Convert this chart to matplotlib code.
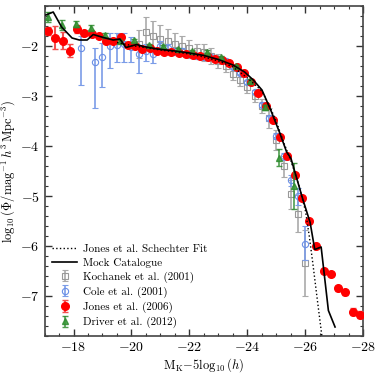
import matplotlib
matplotlib.use("Agg")
import matplotlib.pyplot as plt
from matplotlib.ticker import MultipleLocator

plt.rcParams['font.family'] = 'serif'
plt.rcParams['font.serif'] = ['cmr10', 'DejaVu Serif']
plt.rcParams['mathtext.fontset'] = 'cm'
plt.rcParams['axes.formatter.use_mathtext'] = True

# Jones et al. (2006)
jones_x = [-17.125, -17.375, -17.625, -17.875, -18.125, -18.375, -18.625, -18.875,
           -19.125, -19.375, -19.625, -19.875, -20.125, -20.375, -20.625, -20.875,
           -21.125, -21.375, -21.625, -21.875, -22.125, -22.375, -22.625, -22.875,
           -23.125, -23.375, -23.625, -23.875, -24.125, -24.375, -24.625, -24.875,
           -25.125, -25.375, -25.625, -25.875, -26.125, -26.375, -26.625, -26.875,
           -27.125, -27.375, -27.625, -27.875]
jones_y = [-1.70, -1.83, -1.89, -2.09, -1.66, -1.74, -1.75, -1.80,
           -1.89, -1.90, -1.82, -1.97, -2.01, -2.07, -2.05, -2.09,
           -2.12, -2.12, -2.14, -2.15, -2.17, -2.19, -2.22, -2.25,
           -2.28, -2.33, -2.42, -2.54, -2.71, -2.93, -3.19, -3.47,
           -3.82, -4.19, -4.58, -5.04, -5.50, -6.00, -6.49, -6.55,
           -6.84, -6.92, -7.31, -7.37]
jones_err = [0.08, 0.23, 0.18, 0.12, 0.08, 0.05, 0.04, 0.04,
             0.04, 0.04, 0.04, 0.03, 0.03, 0.03, 0.03, 0.03,
             0.03, 0.03, 0.03, 0.03, 0.03, 0.03, 0.03, 0.03,
             0.03, 0.03, 0.03, 0.03, 0.03, 0.03, 0.03, 0.03,
             0.03, 0.03, 0.03, 0.03, 0.03, 0.03, 0.04, 0.04,
             0.05, 0.05, 0.07, 0.07]

# Cole et al. (2001)
cole_x = [-18.25, -18.75, -19.0, -19.25, -19.5, -19.75, -20.0, -20.25, -20.5,
          -20.75, -21.0, -21.25, -21.5, -21.75, -22.0, -22.25, -22.5, -22.75,
          -23.0, -23.25, -23.5, -23.75, -24.0, -24.25, -24.5, -24.75, -25.0,
          -25.25, -25.5, -25.75, -26.0]
cole_y = [-2.04, -2.31, -2.21, -2.01, -1.98, -1.96, -2.02, -2.15, -2.10,
          -2.16, -2.00, -2.05, -2.10, -2.09, -2.16, -2.20, -2.21, -2.22,
          -2.25, -2.30, -2.42, -2.54, -2.71, -2.91, -3.17, -3.44, -3.80,
          -4.20, -4.68, -5.00, -5.95]
cole_up = [0.25, 0.28, 0.28, 0.26, 0.24, 0.22, 0.20, 0.17, 0.15,
           0.12, 0.10, 0.08, 0.06, 0.05, 0.04, 0.04, 0.04, 0.04,
           0.04, 0.04, 0.04, 0.04, 0.04, 0.04, 0.05, 0.05, 0.06,
           0.07, 0.10, 0.15, 0.36]
cole_dn = [0.74, 0.93, 0.61, 0.43, 0.33, 0.35, 0.30, 0.39, 0.20,
           0.18, 0.12, 0.10, 0.07, 0.05, 0.05, 0.04, 0.04, 0.04,
           0.04, 0.04, 0.04, 0.04, 0.04, 0.04, 0.05, 0.05, 0.06,
           0.08, 0.12, 0.18, 0.33]

# Kochanek et al. (2001)
koch_x = [-20.25, -20.5, -20.75, -21.0, -21.25, -21.5, -21.75, -22.0, -22.25,
          -22.5, -22.75, -23.0, -23.25, -23.5, -23.75, -24.0, -24.25, -24.5,
          -24.75, -25.0, -25.25, -25.5, -25.75, -26.0]
koch_y = [-1.95, -1.72, -1.80, -1.85, -1.90, -1.95, -2.00, -2.05, -2.10,
          -2.12, -2.20, -2.30, -2.40, -2.56, -2.68, -2.81, -3.00, -3.19,
          -3.44, -3.87, -4.40, -4.96, -5.35, -6.34]
koch_err = [0.28, 0.30, 0.30, 0.28, 0.25, 0.22, 0.20, 0.18, 0.15,
            0.17, 0.16, 0.14, 0.12, 0.12, 0.12, 0.12, 0.12, 0.14,
            0.20, 0.20, 0.21, 0.29, 0.37, 0.66]

# Driver et al. (2012)
driver_x = [-17.12, -17.6, -18.1, -18.6, -19.1, -19.6, -20.1, -20.6, -21.1,
            -21.6, -22.1, -22.6, -23.1, -23.6, -24.1, -24.6, -25.1, -25.6]
driver_y = [-1.42, -1.58, -1.55, -1.63, -1.77, -1.90, -1.88, -1.98, -2.01,
            -2.06, -2.10, -2.11, -2.22, -2.40, -2.70, -3.22, -4.23, -4.80]
driver_err = [0.10, 0.10, 0.06, 0.05, 0.04, 0.03, 0.03, 0.03, 0.03,
              0.03, 0.03, 0.03, 0.03, 0.03, 0.04, 0.05, 0.17, 0.45]

# mock catalogue
mock_x = [-17.05, -17.3, -17.59, -17.95, -18.2, -18.47, -18.68, -19.03, -19.37,
          -19.6, -19.81, -20.18, -20.41, -20.9, -21.5, -22.0, -22.5, -23.0,
          -23.5, -23.9, -24.2, -24.5, -24.8, -25.1, -25.35, -25.5, -25.9,
          -26.16, -26.32, -26.54, -26.79, -27.02]
mock_y = [-1.38, -1.32, -1.62, -1.84, -1.88, -1.88, -1.77, -1.83, -1.88,
          -1.86, -2.03, -1.97, -2.01, -2.06, -2.10, -2.14, -2.19, -2.27,
          -2.38, -2.52, -2.68, -2.88, -3.28, -3.72, -4.12, -4.25, -5.05,
          -5.53, -6.07, -6.02, -7.29, -7.62]

# Schechter fit
fit_x = [-19.5, -20.0, -21.0, -22.0, -22.5, -23.0, -23.5, -24.0, -24.5, -24.8,
         -25.0, -25.25, -25.5, -25.75, -26.0, -26.13, -26.25, -26.39, -26.52, -26.6]
fit_y = [-1.93, -1.99, -2.08, -2.16, -2.22, -2.30, -2.42, -2.64, -2.90, -3.25,
         -3.52, -3.93, -4.30, -4.74, -5.30, -5.80, -6.33, -6.99, -7.59, -7.95]

fig = plt.figure(figsize=(3.82, 3.75), dpi=100)
ax = fig.add_axes([0.1165, 0.104, 0.835, 0.88])

hk = ax.errorbar(koch_x, koch_y, yerr=koch_err, fmt='s', ms=4.5, mfc='none',
                 mec='#999999', ecolor='#aaaaaa', capsize=2.5, elinewidth=1.2,
                 mew=0.8, label='Kochanek et al. (2001)', zorder=2)
hc = ax.errorbar(cole_x, cole_y, yerr=[cole_dn, cole_up], fmt='o', ms=4.5, mfc='none',
                 mec='#6a8fe6', ecolor='#7b9ce8', capsize=2.5, elinewidth=1.2,
                 mew=0.8, label='Cole et al. (2001)', zorder=3)
hj = ax.errorbar(jones_x, jones_y, yerr=jones_err, fmt='o', ms=5.5, color='red',
                 mec='red', ecolor='#f25050', capsize=2.5, elinewidth=1.5,
                 label='Jones et al. (2006)', zorder=4)
hd = ax.errorbar(driver_x, driver_y, yerr=driver_err, fmt='^', ms=4.5, color='#3a9a3a',
                 mec='#2e8b2e', ecolor='#2e8b2e', capsize=2.5, elinewidth=1.2,
                 alpha=0.85, label='Driver et al. (2012)', zorder=5)
hm, = ax.plot(mock_x, mock_y, '-', color='black', lw=1.2, label='Mock Catalogue', zorder=6)
hf, = ax.plot(fit_x, fit_y, ':', color='black', lw=1.0,
              label='Jones et al. Schechter Fit', zorder=6)

ax.set_xlim(-17, -28)
ax.set_ylim(-7.8, -1.2)
ax.xaxis.set_major_locator(MultipleLocator(2))
ax.xaxis.set_minor_locator(MultipleLocator(0.5))
ax.yaxis.set_major_locator(MultipleLocator(1))
ax.yaxis.set_minor_locator(MultipleLocator(0.2))
ax.tick_params(which='both', direction='in', top=True, right=True, colors='#333333',
               labelcolor='black', labelsize=10)
ax.tick_params(which='major', length=5, width=1)
ax.tick_params(which='minor', length=2.5, width=0.8)
for s in ax.spines.values():
    s.set_color('#444444')
    s.set_linewidth(1.2)

ax.set_xlabel(r'$\mathrm{M_K}{-}5\log_{10}(h)$', fontsize=9, labelpad=2)
ax.set_ylabel(r'$\log_{10}(\Phi/\mathrm{mag}^{-1}\,h^3\,\mathrm{Mpc}^{-3})$', fontsize=9,
              labelpad=2)

ax.legend(handles=[hf, hm, hk, hc, hj, hd], loc='lower left', frameon=False,
          fontsize=8, labelspacing=0.35, handlelength=2.2, handletextpad=0.6,
          borderaxespad=0.3, bbox_to_anchor=(0.0, 0.0))

fig.savefig('out.png', dpi=100)
